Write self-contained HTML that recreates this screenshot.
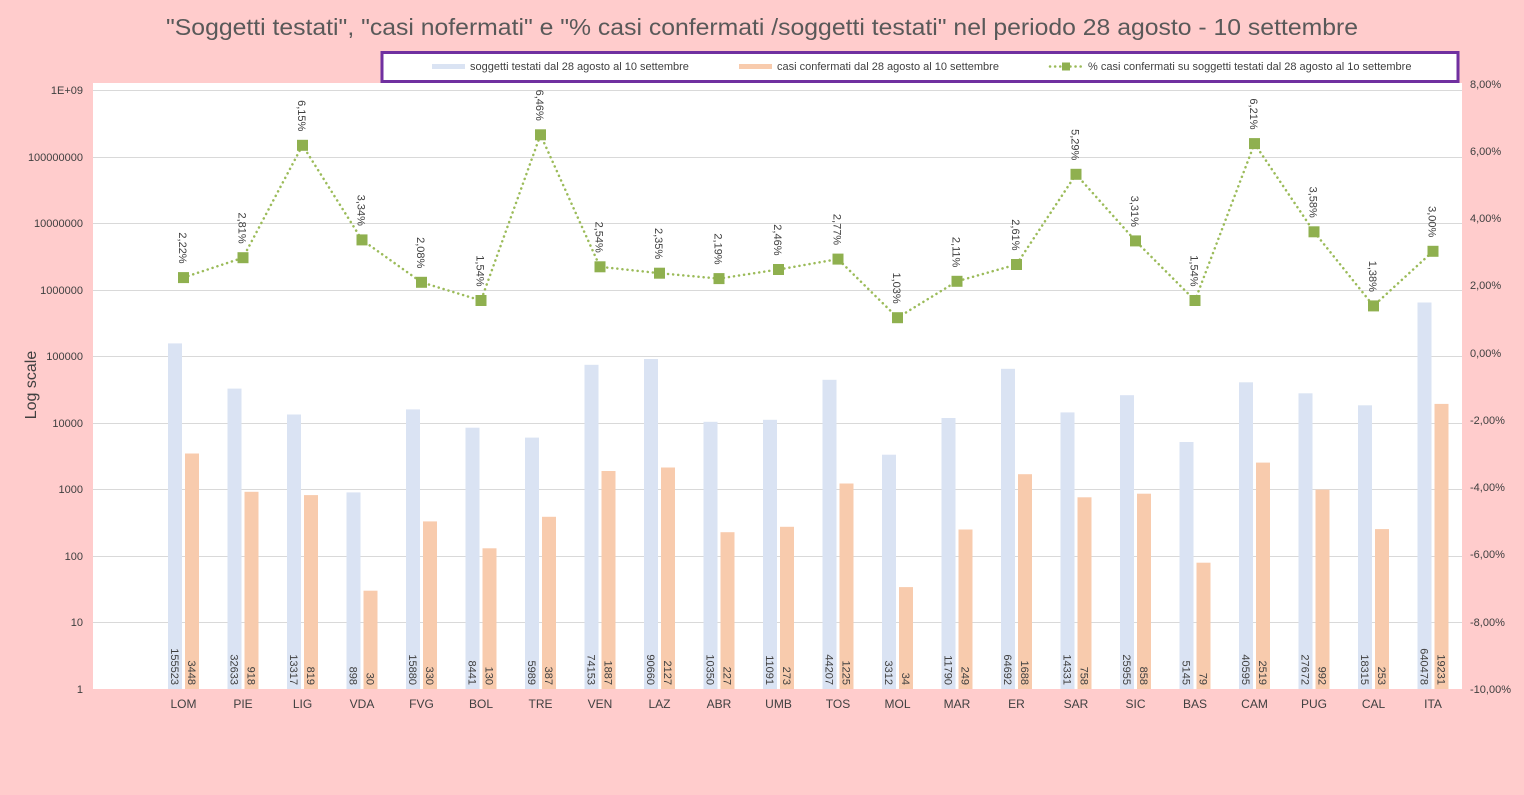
<!DOCTYPE html>
<html><head><meta charset="utf-8"><style>html,body{margin:0;padding:0;background:#FFCCCC}svg{display:block}</style></head><body>
<svg width="1524" height="795" xmlns="http://www.w3.org/2000/svg" font-family="Liberation Sans, sans-serif">
<rect x="0" y="0" width="1524" height="795" fill="#FFCCCC"/>
<rect x="93" y="83" width="1369" height="606" fill="#ffffff"/>
<text x="762" y="35" font-size="23" fill="#595959" text-anchor="middle" textLength="1192" lengthAdjust="spacingAndGlyphs">"Soggetti testati", "casi nofermati" e "% casi confermati /soggetti testati" nel periodo 28 agosto - 10 settembre</text>
<g stroke="#d9d9d9" stroke-width="1">
<line x1="93" x2="1462" y1="90.5" y2="90.5"/><line x1="93" x2="1462" y1="157.5" y2="157.5"/><line x1="93" x2="1462" y1="223.5" y2="223.5"/><line x1="93" x2="1462" y1="290.5" y2="290.5"/><line x1="93" x2="1462" y1="356.5" y2="356.5"/><line x1="93" x2="1462" y1="423.5" y2="423.5"/><line x1="93" x2="1462" y1="489.5" y2="489.5"/><line x1="93" x2="1462" y1="556.5" y2="556.5"/><line x1="93" x2="1462" y1="622.5" y2="622.5"/>
</g>
<g font-size="11" fill="#404040" text-anchor="end">
<text x="83" y="94">1E+09</text><text x="83" y="161">100000000</text><text x="83" y="227">10000000</text><text x="83" y="294">1000000</text><text x="83" y="360">100000</text><text x="83" y="427">10000</text><text x="83" y="493">1000</text><text x="83" y="560">100</text><text x="83" y="626">10</text><text x="83" y="693">1</text>
</g>
<g font-size="11" fill="#404040">
<text x="1470" y="88">8,00%</text><text x="1470" y="155">6,00%</text><text x="1470" y="222">4,00%</text><text x="1470" y="289">2,00%</text><text x="1470" y="357">0,00%</text><text x="1470" y="424">-2,00%</text><text x="1470" y="491">-4,00%</text><text x="1470" y="558">-6,00%</text><text x="1470" y="626">-8,00%</text><text x="1470" y="693">-10,00%</text>
</g>
<text transform="translate(36,385) rotate(-90)" font-size="16" fill="#404040" text-anchor="middle">Log scale</text>
<g fill="#DAE3F3">
<rect x="168" y="343.4" width="14" height="345.6"/><rect x="227.5" y="388.6" width="14" height="300.4"/><rect x="287" y="414.5" width="14" height="274.5"/><rect x="346.5" y="492.4" width="14" height="196.6"/><rect x="406" y="409.4" width="14" height="279.6"/><rect x="465.5" y="427.7" width="14" height="261.3"/><rect x="525" y="437.6" width="14" height="251.4"/><rect x="584.5" y="364.8" width="14" height="324.2"/><rect x="644" y="359" width="14" height="330"/><rect x="703.5" y="421.8" width="14" height="267.2"/><rect x="763" y="419.8" width="14" height="269.2"/><rect x="822.5" y="379.8" width="14" height="309.2"/><rect x="882" y="454.7" width="14" height="234.3"/><rect x="941.5" y="418" width="14" height="271"/><rect x="1001" y="368.8" width="14" height="320.2"/><rect x="1060.5" y="412.4" width="14" height="276.6"/><rect x="1120" y="395.2" width="14" height="293.8"/><rect x="1179.5" y="442" width="14" height="247"/><rect x="1239" y="382.3" width="14" height="306.7"/><rect x="1298.5" y="393.3" width="14" height="295.7"/><rect x="1358" y="405.3" width="14" height="283.7"/><rect x="1417.5" y="302.5" width="14" height="386.5"/>
</g>
<g fill="#F8CBAD">
<rect x="185" y="453.5" width="14" height="235.5"/><rect x="244.5" y="491.8" width="14" height="197.2"/><rect x="304" y="495.1" width="14" height="193.9"/><rect x="363.5" y="590.7" width="14" height="98.3"/><rect x="423" y="521.4" width="14" height="167.6"/><rect x="482.5" y="548.3" width="14" height="140.7"/><rect x="542" y="516.8" width="14" height="172.2"/><rect x="601.5" y="471" width="14" height="218"/><rect x="661" y="467.5" width="14" height="221.5"/><rect x="720.5" y="532.2" width="14" height="156.8"/><rect x="780" y="526.8" width="14" height="162.2"/><rect x="839.5" y="483.5" width="14" height="205.5"/><rect x="899" y="587.1" width="14" height="101.9"/><rect x="958.5" y="529.5" width="14" height="159.5"/><rect x="1018" y="474.2" width="14" height="214.8"/><rect x="1077.5" y="497.3" width="14" height="191.7"/><rect x="1137" y="493.7" width="14" height="195.3"/><rect x="1196.5" y="562.7" width="14" height="126.3"/><rect x="1256" y="462.6" width="14" height="226.4"/><rect x="1315.5" y="489.6" width="14" height="199.4"/><rect x="1375" y="529.1" width="14" height="159.9"/><rect x="1434.5" y="403.9" width="14" height="285.1"/>
</g>
<g font-size="11" fill="#404040" text-anchor="end">
<text transform="translate(171,685) rotate(90)">155523</text><text transform="translate(188,685) rotate(90)">3448</text>
<text transform="translate(230.5,685) rotate(90)">32633</text><text transform="translate(247.5,685) rotate(90)">918</text>
<text transform="translate(290,685) rotate(90)">13317</text><text transform="translate(307,685) rotate(90)">819</text>
<text transform="translate(349.5,685) rotate(90)">898</text><text transform="translate(366.5,685) rotate(90)">30</text>
<text transform="translate(409,685) rotate(90)">15880</text><text transform="translate(426,685) rotate(90)">330</text>
<text transform="translate(468.5,685) rotate(90)">8441</text><text transform="translate(485.5,685) rotate(90)">130</text>
<text transform="translate(528,685) rotate(90)">5989</text><text transform="translate(545,685) rotate(90)">387</text>
<text transform="translate(587.5,685) rotate(90)">74153</text><text transform="translate(604.5,685) rotate(90)">1887</text>
<text transform="translate(647,685) rotate(90)">90660</text><text transform="translate(664,685) rotate(90)">2127</text>
<text transform="translate(706.5,685) rotate(90)">10350</text><text transform="translate(723.5,685) rotate(90)">227</text>
<text transform="translate(766,685) rotate(90)">11091</text><text transform="translate(783,685) rotate(90)">273</text>
<text transform="translate(825.5,685) rotate(90)">44207</text><text transform="translate(842.5,685) rotate(90)">1225</text>
<text transform="translate(885,685) rotate(90)">3312</text><text transform="translate(902,685) rotate(90)">34</text>
<text transform="translate(944.5,685) rotate(90)">11790</text><text transform="translate(961.5,685) rotate(90)">249</text>
<text transform="translate(1004,685) rotate(90)">64692</text><text transform="translate(1021,685) rotate(90)">1688</text>
<text transform="translate(1063.5,685) rotate(90)">14331</text><text transform="translate(1080.5,685) rotate(90)">758</text>
<text transform="translate(1123,685) rotate(90)">25955</text><text transform="translate(1140,685) rotate(90)">858</text>
<text transform="translate(1182.5,685) rotate(90)">5145</text><text transform="translate(1199.5,685) rotate(90)">79</text>
<text transform="translate(1242,685) rotate(90)">40595</text><text transform="translate(1259,685) rotate(90)">2519</text>
<text transform="translate(1301.5,685) rotate(90)">27672</text><text transform="translate(1318.5,685) rotate(90)">992</text>
<text transform="translate(1361,685) rotate(90)">18315</text><text transform="translate(1378,685) rotate(90)">253</text>
<text transform="translate(1420.5,685) rotate(90)">640478</text><text transform="translate(1437.5,685) rotate(90)">19231</text>
</g>
<polyline fill="none" stroke="#9BBB59" stroke-width="2.5" stroke-dasharray="0.1 5" stroke-linecap="round" points="183.5,277.6 243,257.7 302.5,145.3 362,239.9 421.5,282.3 481,300.5 540.5,134.8 600,266.8 659.5,273.2 719,278.6 778.5,269.5 838,259.1 897.5,317.7 957,281.3 1016.5,264.5 1076,174.3 1135.5,240.9 1195,300.5 1254.5,143.6 1314,231.8 1373.5,305.9 1433,251.3"/>
<g fill="#8FB04F">
<rect x="178" y="272.1" width="11" height="11"/><rect x="237.5" y="252.2" width="11" height="11"/><rect x="297" y="139.8" width="11" height="11"/><rect x="356.5" y="234.4" width="11" height="11"/><rect x="416" y="276.8" width="11" height="11"/><rect x="475.5" y="295" width="11" height="11"/><rect x="535" y="129.3" width="11" height="11"/><rect x="594.5" y="261.3" width="11" height="11"/><rect x="654" y="267.7" width="11" height="11"/><rect x="713.5" y="273.1" width="11" height="11"/><rect x="773" y="264" width="11" height="11"/><rect x="832.5" y="253.6" width="11" height="11"/><rect x="892" y="312.2" width="11" height="11"/><rect x="951.5" y="275.8" width="11" height="11"/><rect x="1011" y="259" width="11" height="11"/><rect x="1070.5" y="168.8" width="11" height="11"/><rect x="1130" y="235.4" width="11" height="11"/><rect x="1189.5" y="295" width="11" height="11"/><rect x="1249" y="138.1" width="11" height="11"/><rect x="1308.5" y="226.3" width="11" height="11"/><rect x="1368" y="300.4" width="11" height="11"/><rect x="1427.5" y="245.8" width="11" height="11"/>
</g>
<g font-size="11" fill="#404040" text-anchor="end">
<text transform="translate(179,263.6) rotate(90)">2,22%</text><text transform="translate(238.5,243.7) rotate(90)">2,81%</text><text transform="translate(298,131.3) rotate(90)">6,15%</text><text transform="translate(357.5,225.9) rotate(90)">3,34%</text><text transform="translate(417,268.3) rotate(90)">2,08%</text><text transform="translate(476.5,286.5) rotate(90)">1,54%</text><text transform="translate(536,120.8) rotate(90)">6,46%</text><text transform="translate(595.5,252.8) rotate(90)">2,54%</text><text transform="translate(655,259.2) rotate(90)">2,35%</text><text transform="translate(714.5,264.6) rotate(90)">2,19%</text><text transform="translate(774,255.5) rotate(90)">2,46%</text><text transform="translate(833.5,245.1) rotate(90)">2,77%</text><text transform="translate(893,303.7) rotate(90)">1,03%</text><text transform="translate(952.5,267.3) rotate(90)">2,11%</text><text transform="translate(1012,250.5) rotate(90)">2,61%</text><text transform="translate(1071.5,160.3) rotate(90)">5,29%</text><text transform="translate(1131,226.9) rotate(90)">3,31%</text><text transform="translate(1190.5,286.5) rotate(90)">1,54%</text><text transform="translate(1250,129.6) rotate(90)">6,21%</text><text transform="translate(1309.5,217.8) rotate(90)">3,58%</text><text transform="translate(1369,291.9) rotate(90)">1,38%</text><text transform="translate(1428.5,237.3) rotate(90)">3,00%</text>
</g>
<g font-size="12" fill="#404040" text-anchor="middle">
<text x="183.5" y="708">LOM</text><text x="243" y="708">PIE</text><text x="302.5" y="708">LIG</text><text x="362" y="708">VDA</text><text x="421.5" y="708">FVG</text><text x="481" y="708">BOL</text><text x="540.5" y="708">TRE</text><text x="600" y="708">VEN</text><text x="659.5" y="708">LAZ</text><text x="719" y="708">ABR</text><text x="778.5" y="708">UMB</text><text x="838" y="708">TOS</text><text x="897.5" y="708">MOL</text><text x="957" y="708">MAR</text><text x="1016.5" y="708">ER</text><text x="1076" y="708">SAR</text><text x="1135.5" y="708">SIC</text><text x="1195" y="708">BAS</text><text x="1254.5" y="708">CAM</text><text x="1314" y="708">PUG</text><text x="1373.5" y="708">CAL</text><text x="1433" y="708">ITA</text>
</g>
<rect x="382" y="52.5" width="1076" height="29" fill="#ffffff" stroke="#7030A0" stroke-width="3"/>
<rect x="432" y="64" width="33" height="5" fill="#DAE3F3"/>
<text x="470" y="70" font-size="11" fill="#404040">soggetti testati dal 28 agosto al 10 settembre</text>
<rect x="739" y="64" width="33" height="5" fill="#F8CBAD"/>
<text x="777" y="70" font-size="11" fill="#404040">casi confermati dal 28 agosto al 10 settembre</text>
<line x1="1050" x2="1082" y1="66.5" y2="66.5" stroke="#9BBB59" stroke-width="2.5" stroke-dasharray="0.1 5" stroke-linecap="round"/>
<rect x="1062" y="62.5" width="8" height="8" fill="#8FB04F"/>
<text x="1088" y="70" font-size="11" fill="#404040">% casi confermati su soggetti testati dal 28 agosto  al 1o settembre</text>
</svg>
</body></html>
